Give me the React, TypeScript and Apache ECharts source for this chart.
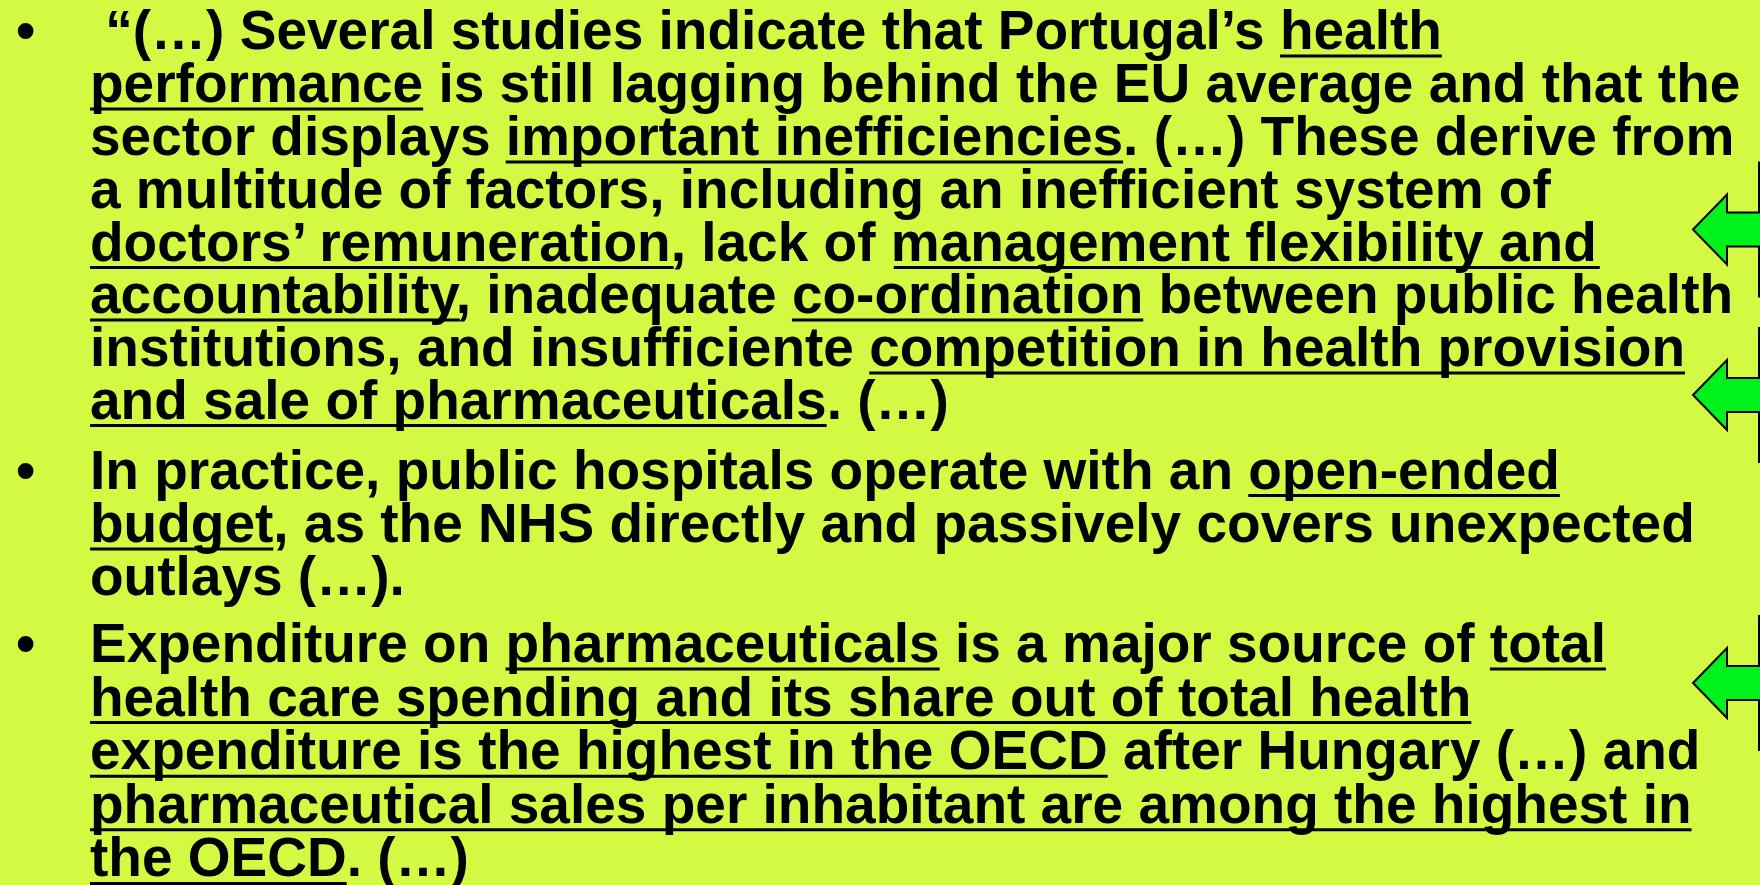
import React, { useEffect, useRef } from "react";
import * as echarts from "echarts";

// ---- content (each line: list of [text, underlined]) ----
const para1Lines: [string, boolean][][] = [
  [[" “(…) Several studies indicate that Portugal’s ", false], ["health", true]],
  [["performance", true], [" is still lagging behind the EU average and that the", false]],
  [["sector displays ", false], ["important inefficiencies", true], [". (…) These derive from", false]],
  [["a multitude of factors, including an inefficient system of", false]],
  [["doctors’ remuneration", true], [", lack of ", false], ["management flexibility and", true]],
  [["accountability", true], [", inadequate ", false], ["co-ordination", true], [" between public health", false]],
  [["institutions, and insufficiente ", false], ["competition in health provision", true]],
  [["and sale of pharmaceuticals", true], [". (…)", false]],
];
const para2Lines: [string, boolean][][] = [
  [["In practice, public hospitals operate with an ", false], ["open-ended", true]],
  [["budget", true], [", as the NHS directly and passively covers unexpected", false]],
  [["outlays (…).", false]],
];
const para3Lines: [string, boolean][][] = [
  [["Expenditure on ", false], ["pharmaceuticals", true], [" is a major source of ", false], ["total", true]],
  [["health care spending and its share out of total health", true]],
  [["expenditure is the highest in the OECD", true], [" after Hungary (…) and", false]],
  [["pharmaceutical sales per inhabitant are among the highest in", true]],
  [["the OECD", true], [". (…)", false]],
];
const paragraphs = [para1Lines, para2Lines, para3Lines];
const bulletChar = "•";

// ---- layout ----
const paraBaselines = [
  [49, 102, 155, 207.5, 260.5, 313, 366, 418.5],
  [488.5, 542, 595],
  [662, 715.6, 769.2, 822.8, 876.4],
];
const arrowCentersY = [229.5, 395, 683];
const FONT_SIZE = 55;
const FONT_FAMILY = '"Liberation Sans", Arial, sans-serif';
const TEXT_X = 90;
const BULLET_X = 16;
const CENTER_OFF = 19;
const UNDERLINE_OFF = 7;
const BG = "#d4f943";
const ARROW_FILL = "#00f21c";

function buildGraphics() {
  const canvas = document.createElement("canvas");
  const ctx = canvas.getContext("2d")!;
  ctx.font = `bold ${FONT_SIZE}px ${FONT_FAMILY}`;
  const m = (s: string) => ctx.measureText(s).width;
  const els: any[] = [];
  const textStyle = (text: string) => ({
    text,
    fontSize: FONT_SIZE,
    fontFamily: FONT_FAMILY,
    fontWeight: "bold",
    fill: "#000",
    align: "left",
    verticalAlign: "middle",
  });
  paragraphs.forEach((lines, pi) => {
    const bases = paraBaselines[pi];
    els.push({ type: "text", x: BULLET_X, y: bases[0] - CENTER_OFF, style: textStyle(bulletChar) });
    lines.forEach((segs, li) => {
      const base = bases[li];
      const full = segs.map((s) => s[0]).join("");
      const trimmed = full.replace(/^\s+/, "");
      const lead = m(full.slice(0, full.length - trimmed.length));
      els.push({ type: "text", x: TEXT_X + lead, y: base - CENTER_OFF, style: textStyle(trimmed) });
      let prefix = "";
      segs.forEach(([t, u]) => {
        if (u) {
          const x0 = TEXT_X + m(prefix);
          const x1 = TEXT_X + m(prefix + t);
          els.push({
            type: "rect",
            shape: { x: x0, y: base + UNDERLINE_OFF - 1.5, width: x1 - x0, height: 3 },
            style: { fill: "#000" },
          });
        }
        prefix += t;
      });
    });
  });
  arrowCentersY.forEach((c) => {
    els.push({
      type: "polygon",
      shape: {
        points: [
          [1693, c],
          [1727, c - 35],
          [1727, c - 17],
          [1759, c - 17],
          [1759, c - 67],
          [1800, c - 67],
          [1800, c + 67],
          [1759, c + 67],
          [1759, c + 17],
          [1727, c + 17],
          [1727, c + 35],
        ],
      },
      style: { fill: ARROW_FILL, stroke: "#000", lineWidth: 2 },
      z: 10,
    });
  });
  return els;
}

export default function App() {
  const ref = useRef<HTMLDivElement>(null);
  useEffect(() => {
    if (!ref.current) return;
    const chart = echarts.init(ref.current, undefined, { renderer: "svg" });
    chart.setOption({
      animation: false,
      backgroundColor: BG,
      graphic: { elements: buildGraphics() },
    });
    return () => chart.dispose();
  }, []);
  return (
    <div
      ref={ref}
      style={{ position: "absolute", left: 0, top: 0, width: 1760, height: 885 }}
    />
  );
}
